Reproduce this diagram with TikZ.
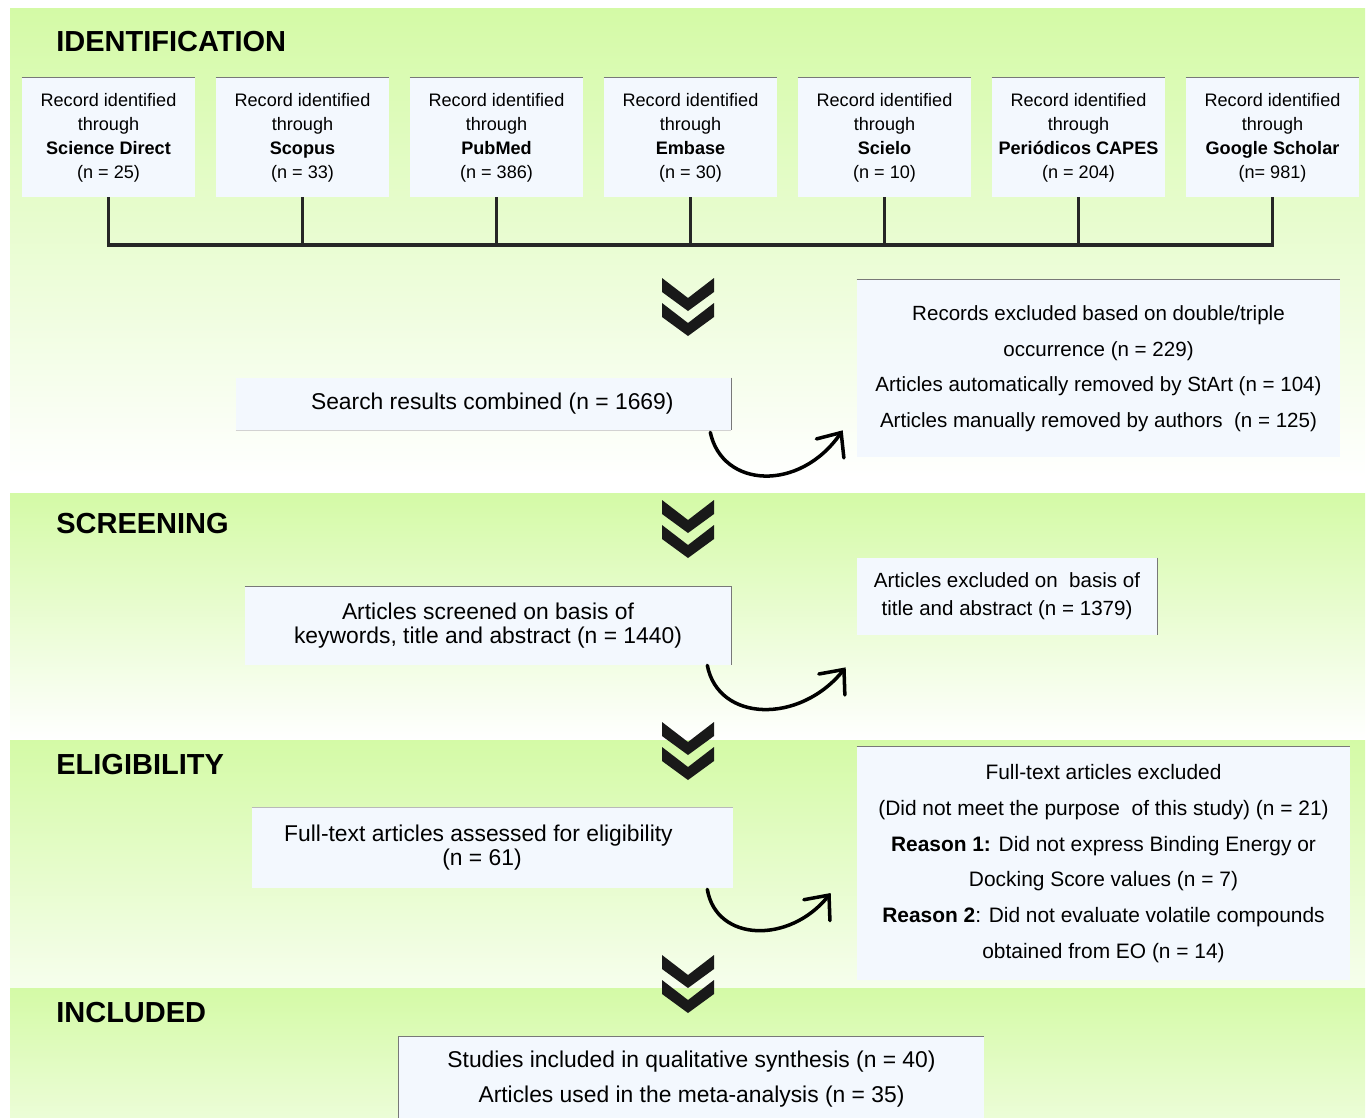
\documentclass[tikz,border=0pt]{standalone}
\usepackage{fontspec}
\setmainfont{Liberation Sans}
\usetikzlibrary{arrows.meta,calc}
\definecolor{bggreen}{RGB}{212,250,166}
\definecolor{boxfill}{RGB}{243,248,254}
\definecolor{rimgray}{RGB}{120,120,120}
\tikzset{
  record/.style={fill=boxfill, inner sep=0pt, align=center,
    minimum width=3.46cm, minimum height=2.38cm,
    font={\fontsize{10.3pt}{13.7pt}\selectfont}},
  panel/.style={fill=boxfill, inner sep=0pt, align=center},
  stage/.style={anchor=west, inner sep=0pt,
    font={\fontsize{16.5pt}{20pt}\selectfont\bfseries}},
  rim/.style={draw=rimgray, line width=0.6pt},
  tree/.style={line width=2.2pt, black!85},
  exitcurve/.style={line width=2pt, line cap=round,
    -{Straight Barb[length=11pt,width=19pt,line cap=round]}}
}
\begin{document}
\begin{tikzpicture}[x=0.02cm,y=-0.02cm]
  \useasboundingbox (0,0) rectangle (1369,1117);
  % stage backgrounds
  \shade[top color=bggreen, bottom color=white] (10,8) rectangle (1365,478);
  \shade[top color=bggreen, bottom color=white] (10,493) rectangle (1365,740);
  \shade[top color=bggreen, bottom color=bggreen!20!white] (10,740) rectangle (1365,988);
  \shade[top color=bggreen, bottom color=bggreen!45!white] (10,988) rectangle (1365,1117);

  \node[stage] (ident) at (56,42) {IDENTIFICATION};
  \node[stage] (scr) at (56,524) {SCREENING};
  \node[stage] (elg) at (56,765) {ELIGIBILITY};
  \node[stage] (inc) at (56,1013) {INCLUDED};

  % databases
  \foreach \i/\db/\n in {1/Science Direct/{(n = 25)}, 2/Scopus/{(n = 33)},
      3/PubMed/{(n = 386)}, 4/Embase/{(n = 30)}, 5/Scielo/{(n = 10)},
      6/Periódicos CAPES/{(n = 204)}, 7/Google Scholar/{(n= 981)}} {
    \node[record] (src\i) at ({108.5+194*(\i-1)},137.5)
      {Record identified\\through\\\textbf{\db}\\\n};
    \draw[rim] (src\i.north west) -- (src\i.north east);
  }
  \coordinate (bus) at (0,245);
  \foreach \i in {1,...,7}
    \draw[tree] (src\i.south) -- (src\i.south |- bus);
  \draw[tree, line cap=rect] (src1.south |- bus) -- (src7.south |- bus);

  % chevrons
  \foreach \y in {278,500,722,955} {
    \foreach \d in {0,25}
      \fill[black!90] (662,\y+\d) -- (688,\y+\d+20) -- (714,\y+\d)
        -- (714,\y+\d+14) -- (688,\y+\d+33) -- (662,\y+\d+14) -- cycle;
  }

  % boxes
  \node[panel, minimum width=9.9cm, minimum height=1.04cm,
    font={\fontsize{13pt}{15pt}\selectfont}] (search) at (483.5,404)
    {\hspace*{10pt}Search results combined (n = 1669)};
  \node[panel, minimum width=9.66cm, minimum height=3.54cm,
    font={\fontsize{11.7pt}{20.2pt}\selectfont}] (dup) at (1098.5,368.5)
    {Records excluded based on double/triple\\occurrence (n = 229)\\
     Articles automatically removed by StArt (n = 104)\\
     Articles manually removed by authors \ (n = 125)};
  \node[panel, minimum width=9.72cm, minimum height=1.56cm,
    font={\fontsize{13pt}{13.7pt}\selectfont}] (screen) at (488,626)
    {Articles screened on basis of\\keywords, title and abstract (n = 1440)};
  \node[panel, minimum width=6cm, minimum height=1.54cm,
    font={\fontsize{11.7pt}{16pt}\selectfont}] (tiab) at (1007,596.5)
    {Articles excluded on \ basis of\\title and abstract (n = 1379)};
  \node[panel, minimum width=9.62cm, minimum height=1.6cm,
    font={\fontsize{13pt}{13.7pt}\selectfont}] (elig) at (492.5,848)
    {Full-text articles assessed for eligibility\hspace*{16pt}\\(n = 61)\hspace*{12pt}};
  \node[panel, minimum width=9.86cm, minimum height=4.66cm,
    font={\fontsize{11.9pt}{20.3pt}\selectfont}] (fulltext) at (1103.5,863.5)
    {Full-text articles excluded\\
     (Did not meet the purpose \ of this study) (n = 21)\\
     \textbf{Reason 1:} Did not express Binding Energy or\\
     Docking Score values (n = 7)\\
     \textbf{Reason 2}: Did not evaluate volatile compounds\\
     obtained from EO (n = 14)};
  \node[panel, minimum width=11.7cm, minimum height=1.7cm,
    font={\fontsize{13pt}{20pt}\selectfont}] (incl) at (691.5,1079.5)
    {Studies included in qualitative synthesis (n = 40)\\
     Articles used in the meta-analysis (n = 35)};

  % box rims
  \draw[rim] (search.north east) -- (search.south east);
  \draw[rim, draw=gray!35] (search.south west) -- (search.south east);
  \draw[rim] (dup.north west) -- (dup.north east);
  \draw[rim] (screen.north west) -- (screen.north east) -- (screen.south east);
  \draw[rim] (tiab.north east) -- (tiab.south east);
  \draw[rim, draw=gray!55] (elig.north west) -- (elig.north east);
  \draw[rim] (fulltext.north west) -- (fulltext.north east);
  \draw[rim] (incl.south west) -- (incl.north west) -- (incl.north east);

  % exclusion arrows
  \coordinate (c1s) at ($(search.south east)+(-21,2)$);
  \coordinate (c1e) at ($(dup.south west)+(-14,-27)$);
  \draw[exitcurve] (c1s) .. controls +(12,56) and +(-43,62) .. (c1e);
  \coordinate (c2s) at ($(screen.south east)+(-24,0)$);
  \coordinate (c2e) at ($(tiab.south west)+(-11,32)$);
  \draw[exitcurve] (c2s) .. controls +(11,57) and +(-46,57) .. (c2e);
  \coordinate (c3s) at ($(elig.south east)+(-26,1)$);
  \coordinate (c3e) at ($(fulltext.west)+(-26,29.5)$);
  \draw[exitcurve] (c3s) .. controls +(9,53) and +(-41,51) .. (c3e);
\end{tikzpicture}
\end{document}
